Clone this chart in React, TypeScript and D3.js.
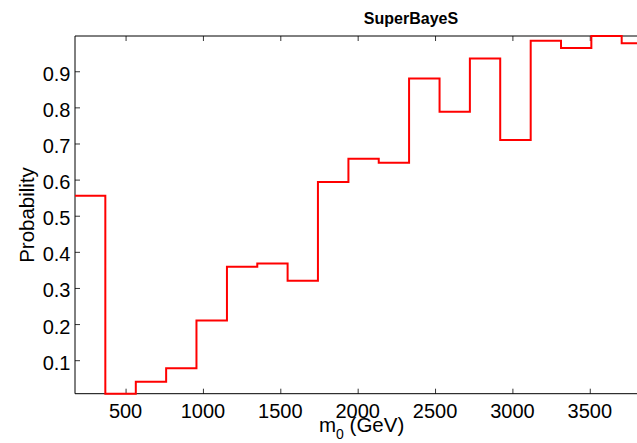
import React from "react";
import * as d3 from "d3";

// Histogram bin edges in m0 (GeV) and the probability of each bin
const binEdges = [170, 366, 563, 759, 955, 1152, 1348, 1544, 1740, 1937, 2133, 2329, 2526, 2722, 2918, 3115, 3311, 3507, 3703, 3900];
const probabilities = [0.557, 0.0086, 0.042, 0.079, 0.211, 0.36, 0.369, 0.321, 0.595, 0.659, 0.648, 0.881, 0.789, 0.937, 0.711, 0.986, 0.966, 0.999, 0.979];
const xTicks = [500, 1000, 1500, 2000, 2500, 3000, 3500];
const yTicks = [0.1, 0.2, 0.3, 0.4, 0.5, 0.6, 0.7, 0.8, 0.9];
const title = "SuperBayeS";

const W = 637;
const H = 443;
const left = 75;
const top = 36;
const bottom = 393.7;
const font = "'Liberation Sans', Arial, Helvetica, sans-serif";

export default function App() {
  const x = d3.scaleLinear().domain([170, 3802]).range([left, W]);
  const ext = d3.extent(probabilities) as [number, number];
  const y = d3.scaleLinear().domain(ext).range([bottom, top]);

  const pts: [number, number][] = [];
  probabilities.forEach((p, i) => {
    pts.push([binEdges[i], p]);
    pts.push([binEdges[i + 1], p]);
  });
  const line = d3
    .line<[number, number]>()
    .x((d) => x(d[0]))
    .y((d) => y(d[1]));

  const tickLen = 5;

  return (
    <svg
      width={W}
      height={H}
      style={{ position: "absolute", left: 0, top: 0, background: "#fff" }}
      fontFamily={font}
    >
      <rect x={0} y={0} width={W} height={H} fill="#fff" />
      {/* axes frame */}
      <line x1={left} x2={W} y1={top} y2={top} stroke="#000" strokeWidth={1} />
      <line x1={left} x2={W} y1={bottom} y2={bottom} stroke="#000" strokeWidth={1} />
      <line x1={left} x2={left} y1={top} y2={bottom} stroke="#000" strokeWidth={1} />

      {xTicks.map((t) => (
        <g key={t}>
          <line x1={x(t)} x2={x(t)} y1={bottom} y2={bottom - tickLen} stroke="#000" strokeWidth={0.8} />
          <line x1={x(t)} x2={x(t)} y1={top} y2={top + tickLen} stroke="#000" strokeWidth={0.8} />
          <text x={x(t) - 0.5} y={417.8} textAnchor="middle" fontSize={20} fill="#000">
            {t}
          </text>
        </g>
      ))}
      {yTicks.map((t) => (
        <g key={t}>
          <line x1={left} x2={left + tickLen} y1={y(t)} y2={y(t)} stroke="#000" strokeWidth={0.8} />
          <text x={70.5} y={y(t) + 9} textAnchor="end" fontSize={20} fill="#000">
            {t.toFixed(1)}
          </text>
        </g>
      ))}

      <path d={line(pts) ?? ""} fill="none" stroke="#ff0000" strokeWidth={2} strokeLinejoin="miter" />

      <text x={411} y={24} textAnchor="middle" fontSize={16} fontWeight="bold" fill="#000">
        {title}
      </text>
      <text
        transform="translate(34,215) rotate(-90)"
        textAnchor="middle"
        fontSize={20.5}
        fill="#000"
      >
        Probability
      </text>
      <text x={319} y={432} fontSize={20.5} fill="#000">
        m
        <tspan dy={7} fontSize={14}>0</tspan>
        <tspan dy={-7}> (GeV)</tspan>
      </text>
    </svg>
  );
}
